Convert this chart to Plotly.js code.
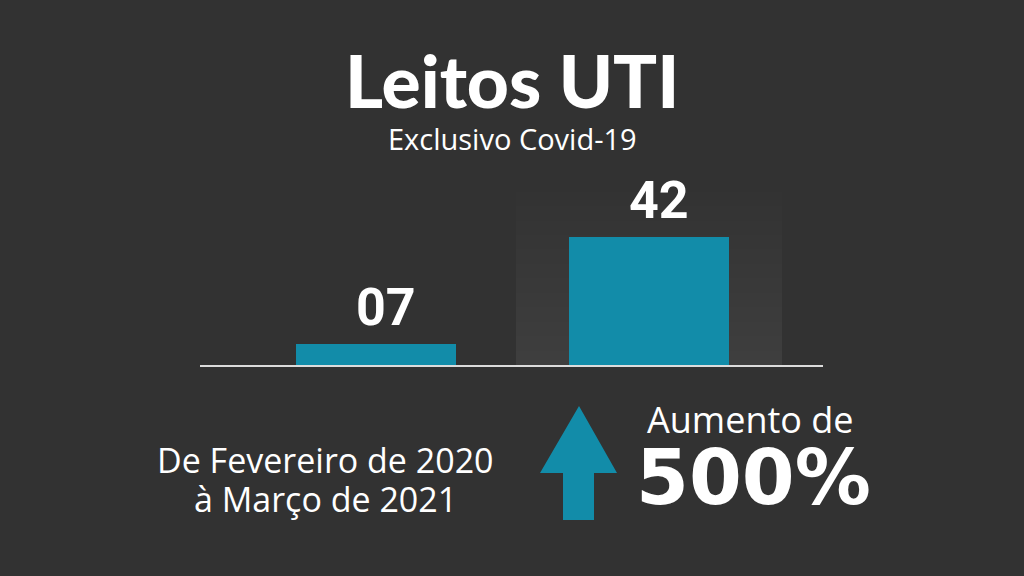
<!DOCTYPE html>
<html><head><meta charset="utf-8">
<script src="https://cdn.plot.ly/plotly-3.0.1.min.js"></script>
<style>html,body{margin:0;padding:0;background:#323232;}#chart{width:1024px;height:576px;}</style>
</head><body><div id="chart"></div>
<script>
const categories = ["Fevereiro 2020", "Março 2021"];
const leitos = [7, 42];
const increasePct = 500;
const titleText = "Leitos UTI";
const subtitleText = "Exclusivo Covid-19";
const periodText = ["De Fevereiro de 2020", "à Março de 2021"];
const increaseLabel = "Aumento de";

const BG = "#323232", BLUE = "#128ca9";
// plot area in pixels: left 200, right 823, top 150, bottom 365
const L = 200, R = 823, T = 150, B = 365;
const px = x => (x - L) / (R - L);
const py = y => (B - y) / (B - T);

// gradient highlight behind 2nd bar (stacked translucent rects)
const shapes = [];
const steps = 12;
for (let i = 0; i < steps; i++) {
  shapes.push({type: "rect", layer: "below", xref: "x", yref: "y",
    x0: 0.51, x1: 1.49, y0: 0, y1: 57 * (1 - i / steps),
    fillcolor: "rgba(255,255,255,0.0085)", line: {width: 0}});
}
// arrow
shapes.push({type: "path", xref: "paper", yref: "paper", layer: "above",
  path: `M ${px(579)} ${py(406)} L ${px(617)} ${py(473)} L ${px(594)} ${py(473)} L ${px(594)} ${py(520)} L ${px(563)} ${py(520)} L ${px(563)} ${py(473)} L ${px(540)} ${py(473)} Z`,
  fillcolor: BLUE, line: {width: 0}});

const W = "#ffffff";
const base = {xref: "paper", yref: "paper", showarrow: false, xanchor: "center", yanchor: "middle"};
const annotations = [
  {text: titleText, x: px(512), y: py(80), font: {family: "Lato", size: 73, weight: 900, color: W}},
  {text: subtitleText, x: px(512), y: py(138), font: {family: "Open Sans", size: 29, color: W}},
  {text: periodText[0], x: px(325), y: py(460), font: {family: "Open Sans", size: 34, color: W}},
  {text: periodText[1], x: px(325), y: py(499), font: {family: "Open Sans", size: 34, color: W}},
  {text: increaseLabel, x: px(750), y: py(419), font: {family: "Open Sans", size: 36, color: W}},
  {text: "<b>" + increasePct + "%</b>", x: px(753), y: py(477), font: {family: "DejaVu Sans", size: 76, color: W}}
].map(a => Object.assign({}, base, a));

// value labels (data-driven)
categories.forEach((c, i) => {
  annotations.push({xref: "x", yref: "y", x: c, y: leitos[i], xshift: 10, yshift: 4,
    showarrow: false, xanchor: "center", yanchor: "bottom",
    text: "<b>" + String(leitos[i]).padStart(2, "0") + "</b>",
    font: {family: "Roboto", size: 52, color: W}});
});

Plotly.newPlot("chart", [{
  type: "bar", x: categories, y: leitos,
  marker: {color: BLUE, line: {width: 0}},
  width: 0.587,
  hoverinfo: "skip"
}], {
  width: 1024, height: 576,
  paper_bgcolor: BG, plot_bgcolor: BG,
  margin: {l: L, r: 1024 - R, t: T, b: 576 - B, pad: 0},
  showlegend: false,
  xaxis: {type: "category", range: [-0.646, 1.64], showticklabels: false, ticks: "",
    showgrid: false, zeroline: false, showline: true, linecolor: "#dcdcdc", linewidth: 2, fixedrange: true},
  yaxis: {range: [0, 70.5], showticklabels: false, ticks: "", showgrid: false, zeroline: false, showline: false, fixedrange: true},
  bargap: 0,
  shapes: shapes, annotations: annotations
}, {displayModeBar: false, staticPlot: true});
</script></body></html>
